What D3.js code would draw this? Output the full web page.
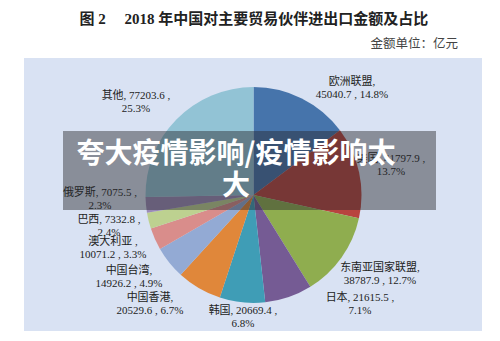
<!DOCTYPE html>
<html><head><meta charset="utf-8">
<script src="https://cdn.jsdelivr.net/npm/d3@7"></script>
<style>
html,body{margin:0;padding:0;background:#fff;}
svg{display:block;}
</style></head>
<body>
<svg id="c" width="500" height="341"></svg>
<script>
// ---- data ----
const partners = ["欧洲联盟","美国","东南亚国家联盟","日本","韩国","中国香港","中国台湾","澳大利亚","巴西","俄罗斯","其他"];
const amounts  = [45040.7, 41797.9, 38787.9, 21615.5, 20669.4, 20529.6, 14926.2, 10071.2, 7332.8, 7075.5, 77203.6];
const shares   = ["14.8%","13.7%","12.7%","7.1%","6.8%","6.7%","4.9%","3.3%","2.4%","2.3%","25.3%"];
const labelLine1 = ["欧洲联盟,","美国, 41797.9 ,","东南亚国家联盟,","日本, 21615.5 ,","韩国, 20669.4 ,","中国香港,","中国台湾,","澳大利亚 ,","巴西, 7332.8 ,","俄罗斯, 7075.5 ,","其他, 77203.6 ,"];
const labelLine2 = ["45040.7 , 14.8%","13.7%","38787.9 , 12.7%","7.1%","6.8%","20529.6 , 6.7%","14926.2 , 4.9%","10071.2 , 3.3%","2.4%","2.3%","25.3%"];
const titleText = "图 2\u3000 2018 年中国对主要贸易伙伴进出口金额及占比";
const unitText = "金额单位：亿元";
const overlayLines = ["夸大疫情影响/疫情影响太","大"];

// ---- layout / style ----
const colors = ["#4674ab","#b8443f","#8fad4f","#755b94","#3f9db6","#e0873a","#93aad4","#d98d8b","#bdd190","#9b8bb8","#92c3d5"];
const labelPos = [[352,81],[391,158],[380,267],[360,297],[243,310],[150,297],[129,270],[113,241],[109,219],[100,192],[136,95]];
const cx = 253.5, cy = 195, R = 108;
const serifCJK = "'Liberation Serif','Times New Roman','Noto Sans CJK SC',serif";

const svg = d3.select("#c");
svg.append("rect").attr("x",24).attr("y",58).attr("width",458).attr("height",273).attr("fill","#d9e2f3");

svg.append("text").attr("x",254).attr("y",24).attr("text-anchor","middle")
  .attr("font-family",serifCJK).attr("font-size",15).attr("font-weight","bold").attr("fill","#222")
  .attr("xml:space","preserve").style("white-space","pre").text(titleText);
svg.append("text").attr("x",458).attr("y",48).attr("text-anchor","end")
  .attr("font-family","'Noto Sans CJK SC',sans-serif").attr("font-size",12.5).attr("fill","#444").text(unitText);

const data = partners.map((p,i)=>({name:p, value:amounts[i], share:shares[i], i}));
const pie = d3.pie().value(d=>d.value).sort(null).startAngle(0).endAngle(2*Math.PI);
const arc = d3.arc().innerRadius(0).outerRadius(R);
const g = svg.append("g").attr("transform",`translate(${cx},${cy})`);
g.selectAll("path").data(pie(data)).join("path")
  .attr("d",arc).attr("fill",d=>colors[d.data.i]);

const lab = svg.append("g").attr("font-family",serifCJK).attr("font-size",11).attr("fill","#222").attr("text-anchor","middle");
data.forEach((d,i)=>{
  const t = lab.append("text").attr("x",labelPos[i][0]).attr("y",labelPos[i][1]+4);
  t.append("tspan").attr("x",labelPos[i][0]).text(labelLine1[i]);
  t.append("tspan").attr("x",labelPos[i][0]).attr("dy",13).text(labelLine2[i]);
});

svg.append("rect").attr("x",63).attr("y",131).attr("width",373).attr("height",79).attr("fill","rgba(40,40,45,0.45)");
const ot = svg.append("g").attr("font-family","'Noto Sans CJK SC',sans-serif").attr("font-size",28).attr("font-weight","bold").attr("fill","#fff").attr("text-anchor","middle");
overlayLines.forEach((s,i)=>{
  ot.append("text").attr("x",236).attr("y",163+i*32).text(s);
});
</script>
</body></html>
